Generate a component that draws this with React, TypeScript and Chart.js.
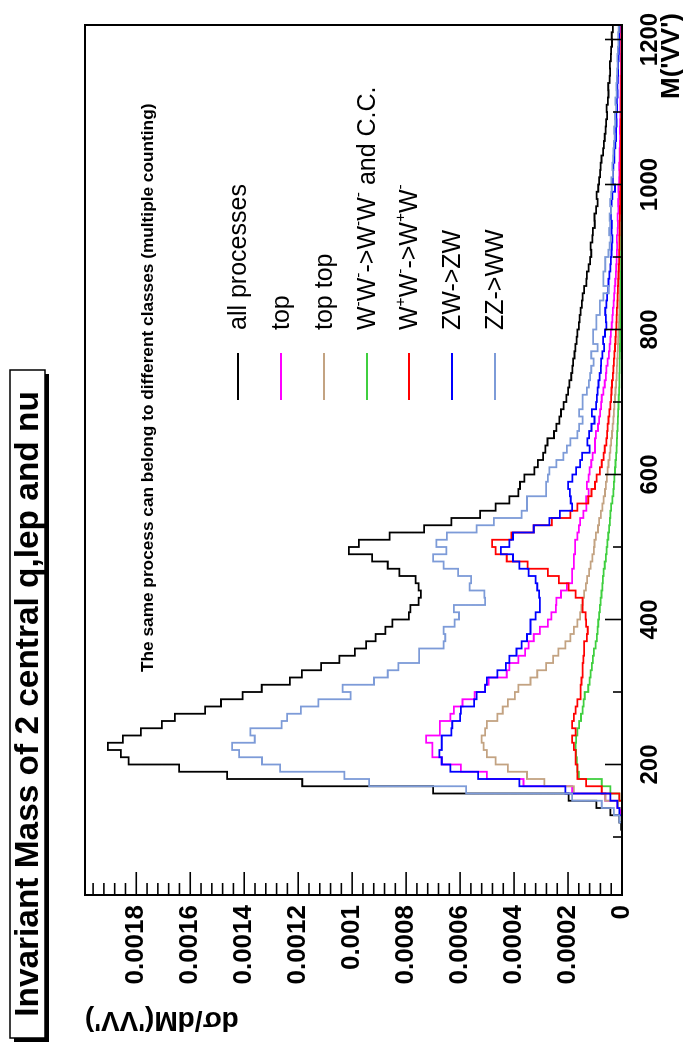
import React, { useEffect, useRef } from "react";
import { Chart, registerables } from "chart.js";

Chart.register(...registerables);

// ---------- data (histograms, 10 GeV bins from 20 to 1220; values in units of 1e-5) ----------
const BIN_LOW = 20;
const BIN_WIDTH = 10;
const VALUE_UNIT = 1e-5;
const X_MIN = 20;
const X_MAX = 1220;
const Y_MAX = 0.00199;

const xTickLabels = [200, 400, 600, 800, 1000, 1200];
const yTickLabels = [0, 0.0002, 0.0004, 0.0006, 0.0008, 0.001, 0.0012, 0.0014, 0.0016, 0.0018];

const allProcesses = [
  0, 0, 0, 0, 0, 0, 0, 0, 0, 0.3,
  1.0, 4.3, 9.5, 19.8, 70.0, 118.5, 146.3, 164.1, 182.8, 185.7,
  190.5, 185.0, 178.3, 170.5, 165.7, 154.5, 148.6, 140.6, 133.5, 123.1,
  118.6, 111.5, 104.7, 99.0, 94.8, 91.3, 87.7, 85.1, 79.0, 78.4,
  75.4, 74.5, 75.4, 76.5, 82.5, 86.8, 92.6, 101.2, 97.5, 86.1,
  73.3, 63.2, 52.6, 46.8, 41.7, 38.4, 37.8, 36.2, 32.5, 31.2,
  29.2, 28.4, 27.6, 25.2, 24.3, 23.2, 22.6, 21.6, 20.6, 20.0,
  19.5, 18.8, 18.4, 18.1, 17.6, 17.3, 16.8, 16.5, 16.0, 15.7,
  15.3, 14.9, 14.6, 14.0, 13.2, 13.0, 12.4, 11.8, 11.4, 11.6,
  11.0, 10.8, 10.1, 10.2, 9.6, 9.0, 9.4, 8.8, 8.5, 8.1,
  7.9, 7.6, 7.0, 6.7, 6.4, 6.1, 5.9, 5.5, 5.7, 5.2,
  5.0, 5.1, 4.6, 4.4, 4.5, 4.1, 4.0, 3.7, 3.8, 3.4,
];

const top = [
  0, 0, 0, 0, 0, 0, 0, 0, 0, 0,
  0, 0.4, 1.7, 6.2, 18.5, 36.5, 50.1, 59.7, 66.8, 70.3,
  70.3, 72.6, 67.5, 67.5, 63.6, 62.3, 59.1, 54.6, 50.7, 49.4,
  42.7, 41.7, 38.4, 35.9, 34.6, 32.7, 30.4, 27.5, 26.2, 24.5,
  24.3, 22.6, 20.4, 18.5, 18.5, 17.8, 17.8, 17.4, 17.4, 16.5,
  16.0, 15.5, 14.3, 13.2, 13.3, 12.4, 13.0, 12.4, 12.0, 11.4,
  10.9, 10.0, 10.0, 9.7, 8.9, 8.5, 8.1, 7.7, 7.5, 6.9,
  6.4, 6.0, 5.8, 5.3, 4.9, 4.6, 4.3, 4.1, 3.8, 3.6,
  3.4, 3.1, 2.9, 2.7, 2.5, 2.3, 2.2, 2.0, 1.9, 1.8,
  1.9, 1.6, 1.5, 1.6, 1.3, 1.4, 1.2, 1.3, 1.1, 1.0,
  1.1, 0.9, 0.9, 0.8, 0.7, 0.8, 0.7, 0.6, 0.6, 0.6,
  0.5, 0.5, 0.5, 0.4, 0.4, 0.4, 0.3, 0.3, 0.3, 0.3,
];

const topTop = [
  0, 0, 0, 0, 0, 0, 0, 0, 0, 0,
  0, 0, 1.4, 6.2, 17.8, 28.8, 35.2, 42.3, 46.8, 50.1,
  51.3, 52.0, 50.7, 50.1, 46.2, 44.2, 42.3, 39.7, 38.4, 33.9,
  31.4, 28.1, 25.5, 23.6, 21.0, 19.1, 17.8, 16.5, 15.5, 15.0,
  14.6, 14.0, 13.4, 12.9, 12.2, 11.6, 11.0, 10.4, 10.2, 9.7,
  8.9, 8.5, 7.8, 7.3, 6.8, 6.3, 6.0, 5.6, 5.3, 5.0,
  4.6, 4.3, 4.0, 3.7, 3.5, 3.2, 3.0, 2.8, 2.6, 2.4,
  2.2, 2.0, 1.9, 1.8, 1.6, 1.5, 1.4, 1.3, 1.2, 1.1,
  1.0, 0.95, 0.9, 0.85, 0.8, 0.7, 0.65, 0.6, 0.55, 0.5,
  0.5, 0.45, 0.4, 0.4, 0.35, 0.35, 0.3, 0.3, 0.28, 0.25,
  0.24, 0.22, 0.2, 0.2, 0.18, 0.17, 0.16, 0.15, 0.14, 0.13,
  0.12, 0.12, 0.11, 0.1, 0.1, 0.09, 0.09, 0.08, 0.08, 0.07,
];

const wmwm = [
  0, 0, 0, 0, 0, 0, 0, 0, 0, 0,
  0, 0, 0, 1.0, 4.3, 7.5, 16.0, 16.5, 16.7, 17.0,
  17.2, 17.0, 16.5, 15.9, 15.2, 14.6, 14.2, 13.8, 12.5, 12.0,
  11.6, 11.2, 10.8, 10.4, 9.8, 9.3, 9.0, 8.8, 8.5, 8.2,
  7.9, 7.6, 7.3, 7.1, 6.8, 6.4, 6.0, 5.7, 5.4, 5.1,
  4.8, 4.5, 4.3, 4.0, 3.6, 3.2, 3.0, 2.8, 2.6, 2.4,
  2.2, 2.0, 1.9, 1.8, 1.6, 1.5, 1.4, 1.3, 1.2, 1.1,
  1.0, 0.95, 0.9, 0.85, 0.8, 0.75, 0.7, 0.65, 0.6, 0.55,
  0.5, 0.48, 0.45, 0.42, 0.4, 0.37, 0.35, 0.33, 0.3, 0.28,
  0.27, 0.25, 0.24, 0.22, 0.21, 0.2, 0.19, 0.18, 0.17, 0.16,
  0.15, 0.14, 0.13, 0.12, 0.12, 0.11, 0.1, 0.1, 0.09, 0.09,
  0.08, 0.08, 0.07, 0.07, 0.07, 0.06, 0.06, 0.06, 0.05, 0.05,
];

const wpwm = [
  0, 0, 0, 0, 0, 0, 0, 0, 0, 0,
  0, 0, 0, 1.0, 7.5, 13.3, 16.5, 16.5, 17.2, 17.2,
  17.8, 18.5, 17.2, 18.5, 17.8, 17.2, 16.5, 15.3, 15.3, 15.0,
  14.6, 14.6, 14.3, 14.0, 14.0, 13.0, 12.7, 13.3, 13.5, 14.6,
  14.6, 17.2, 19.8, 23.4, 27.5, 35.0, 42.7, 46.8, 48.1, 41.0,
  32.7, 26.0, 19.1, 16.5, 12.5, 11.3, 10.0, 9.4, 8.2, 7.5,
  6.8, 6.4, 5.8, 5.5, 5.3, 5.0, 4.7, 4.3, 4.0, 3.9,
  3.7, 3.4, 3.2, 3.0, 2.8, 2.6, 2.4, 2.3, 2.1, 2.0,
  1.9, 1.7, 1.6, 1.5, 1.4, 1.3, 1.2, 1.1, 1.05, 1.0,
  0.95, 0.9, 0.85, 0.8, 0.75, 0.7, 0.65, 0.6, 0.58, 0.55,
  0.52, 0.5, 0.47, 0.45, 0.42, 0.4, 0.38, 0.36, 0.34, 0.32,
  0.3, 0.29, 0.28, 0.26, 0.25, 0.24, 0.23, 0.22, 0.21, 0.2,
];

const zwzw = [
  0, 0, 0, 0, 0, 0, 0, 0, 0, 0,
  0, 1.0, 1.7, 4.3, 21.0, 38.0, 53.3, 63.6, 66.8, 67.7,
  66.8, 66.8, 63.2, 62.9, 60.0, 59.7, 54.8, 53.9, 50.7, 50.1,
  46.2, 43.0, 41.7, 39.1, 37.2, 35.2, 33.9, 33.9, 32.0, 30.4,
  30.4, 30.7, 31.4, 32.0, 34.6, 38.0, 40.4, 44.9, 41.7, 40.4,
  32.7, 26.9, 23.0, 18.5, 19.0, 19.3, 20.0, 18.4, 17.0, 15.5,
  14.8, 12.0, 12.8, 12.2, 11.3, 10.2, 11.2, 9.6, 9.3, 9.0,
  8.7, 8.3, 7.8, 7.7, 7.3, 6.6, 7.0, 6.3, 5.8, 6.0,
  6.2, 5.8, 5.5, 5.1, 5.0, 4.7, 4.3, 4.1, 3.9, 3.8,
  3.6, 3.9, 3.8, 4.1, 4.0, 3.9, 3.6, 2.6, 3.4, 3.3,
  3.2, 2.8, 2.8, 2.5, 2.2, 2.2, 2.0, 2.1, 1.8, 1.9,
  1.6, 1.7, 1.5, 1.4, 1.4, 1.3, 1.2, 1.1, 1.1, 1.0,
];

const zzww = [
  0, 0, 0, 0, 0, 0, 0, 0, 0, 0,
  1.0, 3.0, 7.5, 18.5, 57.8, 93.7, 102.9, 126.7, 133.4, 141.9,
  144.5, 136.1, 137.7, 126.1, 124.1, 119.0, 112.5, 100.6, 103.5, 91.9,
  86.8, 82.9, 75.2, 75.2, 66.1, 65.5, 66.1, 62.0, 60.4, 62.3,
  50.7, 51.0, 56.5, 55.9, 60.7, 66.1, 70.0, 65.1, 68.8, 64.9,
  53.9, 47.5, 37.2, 35.2, 35.2, 28.1, 28.1, 27.5, 26.9, 24.3,
  21.7, 20.4, 19.1, 16.5, 15.9, 14.6, 15.9, 14.6, 14.6, 13.0,
  12.3, 11.8, 11.4, 10.5, 11.4, 9.0, 10.7, 10.7, 9.5, 9.5,
  8.2, 8.2, 6.9, 5.0, 6.9, 6.9, 6.2, 6.2, 5.0, 4.6,
  4.2, 4.8, 4.4, 4.6, 4.0, 4.4, 4.0, 3.8, 3.9, 3.4,
  3.6, 3.3, 3.2, 3.0, 2.7, 2.9, 2.5, 2.6, 2.2, 2.4,
  2.0, 2.1, 1.9, 1.8, 1.6, 1.7, 1.5, 1.3, 1.4, 1.2,
];

const seriesNames = [
  "all processes",
  "top",
  "top top",
  "W-W- -> W-W- and C.C.",
  "W+W- -> W+W-",
  "ZW->ZW",
  "ZZ->WW",
];
const seriesColors = ["#000000", "#ff00ff", "#c3a382", "#3fcf3f", "#ff0000", "#0000ff", "#7d9bd8"];
const seriesValues = [allProcesses, top, topTop, wmwm, wpwm, zwzw, zzww];

// rich legend labels (superscripts drawn raised)
type Seg = { t: string; sup?: boolean };
const legendRich: Seg[][] = [
  [{ t: "all processes" }],
  [{ t: "top" }],
  [{ t: "top top" }],
  [{ t: "W" }, { t: "-", sup: true }, { t: "W" }, { t: "-", sup: true }, { t: "->W" }, { t: "-", sup: true }, { t: "W" }, { t: "-", sup: true }, { t: " and C.C." }],
  [{ t: "W" }, { t: "+", sup: true }, { t: "W" }, { t: "-", sup: true }, { t: "->W" }, { t: "+", sup: true }, { t: "W" }, { t: "-", sup: true }],
  [{ t: "ZW->ZW" }],
  [{ t: "ZZ->WW" }],
];

const TITLE = "Invariant Mass of 2 central q,lep and nu";
const NOTE = "The same process can belong to different classes (multiple counting)";
const X_TITLE = "M('VV')";
const Y_TITLE = "d\u03c3/dM('VV')";

const FONT = '"Liberation Sans", Arial, Helvetica, sans-serif';
const W = 1044;
const H = 683;

function toSteps(values: number[]) {
  const pts = values.map((v, i) => ({ x: BIN_LOW + i * BIN_WIDTH, y: v * VALUE_UNIT }));
  pts.push({ x: BIN_LOW + values.length * BIN_WIDTH, y: values[values.length - 1] * VALUE_UNIT });
  return pts;
}

function fmtY(v: number) {
  if (v === 0) return "0";
  return String(parseFloat(v.toFixed(4)));
}

function fitFont(ctx: CanvasRenderingContext2D, text: string, weight: string, targetWidth: number) {
  ctx.font = `${weight} 20px ${FONT}`;
  const w = ctx.measureText(text).width;
  return (20 * targetWidth) / w;
}

function drawRich(ctx: CanvasRenderingContext2D, segs: Seg[], x: number, y: number, size: number) {
  let cx = x;
  for (const s of segs) {
    if (s.sup) {
      ctx.font = `${size * 0.62}px ${FONT}`;
      ctx.fillText(s.t, cx, y - size * 0.38);
    } else {
      ctx.font = `${size}px ${FONT}`;
      ctx.fillText(s.t, cx, y);
    }
    cx += ctx.measureText(s.t).width;
  }
}

const decorPlugin = {
  id: "rootDecor",
  beforeDraw(chart: any) {
    const ctx = chart.ctx;
    ctx.save();
    ctx.fillStyle = "#ffffff";
    ctx.fillRect(0, 0, chart.width, chart.height);
    ctx.restore();
  },
  afterDraw(chart: any) {
    const ctx: CanvasRenderingContext2D = chart.ctx;
    const { left, right, top: t, bottom } = chart.chartArea;
    const xs = chart.scales.x;
    const ys = chart.scales.y;
    ctx.save();

    // frame
    ctx.strokeStyle = "#000";
    ctx.lineWidth = 2;
    ctx.strokeRect(left, t, right - left, bottom - t);

    // y ticks (inside)
    ctx.lineWidth = 1.6;
    const yMinor = 0.00004;
    for (let k = 1; k * yMinor <= Y_MAX; k++) {
      const py = ys.getPixelForValue(k * yMinor);
      const len = k % 5 === 0 ? 23 : 12;
      ctx.beginPath();
      ctx.moveTo(left, py);
      ctx.lineTo(left + len, py);
      ctx.stroke();
    }
    // x ticks (inside)
    for (let m = 100; m <= 1200; m += 100) {
      const px = xs.getPixelForValue(m);
      const len = m % 200 === 0 ? 17 : 9;
      ctx.beginPath();
      ctx.moveTo(px, bottom);
      ctx.lineTo(px, bottom - len);
      ctx.stroke();
    }

    // tick labels
    ctx.fillStyle = "#000";
    ctx.font = `bold 26px ${FONT}`;
    ctx.textAlign = "right";
    ctx.textBaseline = "middle";
    for (const v of yTickLabels) {
      ctx.fillText(fmtY(v), left - 10, ys.getPixelForValue(v));
    }
    ctx.font = `bold 24px ${FONT}`;
    ctx.textAlign = "center";
    for (const m of xTickLabels) {
      ctx.fillText(String(m), xs.getPixelForValue(m), bottom + 28);
    }

    // axis titles
    ctx.font = `bold 26px ${FONT}`;
    ctx.textAlign = "right";
    ctx.fillText(X_TITLE, right + 12, bottom + 50);
    ctx.font = `bold 28px ${FONT}`;
    ctx.save();
    ctx.translate(24, t);
    ctx.rotate(-Math.PI / 2);
    ctx.textAlign = "right";
    ctx.fillText(Y_TITLE, 0, 0);
    ctx.restore();

    // title box with shadow (bottom-left)
    const bx = 6, by = 10, bw = 668, bh = 35;
    ctx.fillStyle = "#000";
    ctx.fillRect(bx - 4, by + 4, bw, bh);
    ctx.fillStyle = "#fff";
    ctx.fillRect(bx, by, bw, bh);
    ctx.strokeStyle = "#000";
    ctx.lineWidth = 1.5;
    ctx.strokeRect(bx, by, bw, bh);
    const titleSize = fitFont(ctx, TITLE, "bold", 626);
    ctx.fillStyle = "#000";
    ctx.font = `bold ${titleSize}px ${FONT}`;
    ctx.textAlign = "center";
    ctx.textBaseline = "middle";
    ctx.fillText(TITLE, bx + bw / 2, by + bh / 2 + 1);

    // note
    const noteSize = fitFont(ctx, NOTE, "bold", 569);
    ctx.font = `bold ${noteSize}px ${FONT}`;
    ctx.textAlign = "left";
    ctx.fillText(NOTE, 372, 148);

    // legend
    const legendY = [238, 281, 324, 367, 409, 452, 495];
    ctx.textBaseline = "middle";
    ctx.textAlign = "left";
    legendRich.forEach((segs, i) => {
      const y = legendY[i];
      ctx.strokeStyle = seriesColors[i];
      ctx.lineWidth = 1.8;
      ctx.beginPath();
      ctx.moveTo(644, y);
      ctx.lineTo(691, y);
      ctx.stroke();
      ctx.fillStyle = "#000";
      drawRich(ctx, segs, 714, y + 1, 25);
    });

    ctx.restore();
  },
};

export default function App() {
  const canvasRef = useRef<HTMLCanvasElement | null>(null);

  useEffect(() => {
    if (!canvasRef.current) return;
    const order = [6, 5, 4, 3, 2, 1, 0];
    const chart = new Chart(canvasRef.current, {
      type: "line",
      data: {
        datasets: order.map((i) => ({
          label: seriesNames[i],
          data: toSteps(seriesValues[i]),
          borderColor: seriesColors[i],
          backgroundColor: seriesColors[i],
          borderWidth: 1.8,
          pointRadius: 0,
          fill: false,
          stepped: "before" as const,
        })),
      },
      options: {
        responsive: false,
        animation: false,
        devicePixelRatio: 1,
        parsing: false,
        layout: { padding: { top: 85, right: 25, left: 0, bottom: 0 } },
        plugins: {
          legend: { display: false },
          tooltip: { enabled: false },
          title: { display: false },
        },
        scales: {
          x: {
            type: "linear",
            min: X_MIN,
            max: X_MAX,
            grid: { display: false, drawTicks: false },
            border: { display: false },
            ticks: { display: false },
            afterFit: (s: any) => {
              s.height = 61;
            },
          },
          y: {
            type: "linear",
            min: 0,
            max: Y_MAX,
            grid: { display: false, drawTicks: false },
            border: { display: false },
            ticks: { display: false },
            afterFit: (s: any) => {
              s.width = 149;
            },
          },
        },
      },
      plugins: [decorPlugin],
    } as any);
    return () => chart.destroy();
  }, []);

  return (
    <div style={{ position: "absolute", left: 0, top: 0, width: 683, height: 1044, overflow: "hidden", background: "#fff" }}>
      <div
        style={{
          position: "absolute",
          left: 0,
          top: 0,
          width: W,
          height: H,
          transformOrigin: "0 0",
          transform: "translate(0px, 1044px) rotate(-90deg)",
        }}
      >
        <canvas ref={canvasRef} width={W} height={H} style={{ display: "block", width: W, height: H }} />
      </div>
    </div>
  );
}
